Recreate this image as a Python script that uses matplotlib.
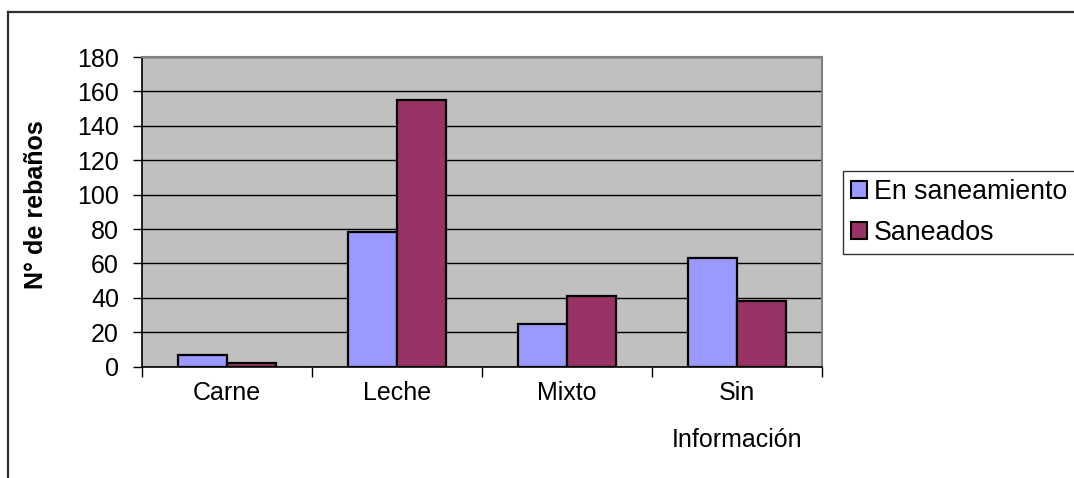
import matplotlib
matplotlib.use("Agg")
import matplotlib.pyplot as plt
import numpy as np
from matplotlib.lines import Line2D
from matplotlib.patches import Patch

plt.rcParams['font.family'] = ['Liberation Sans', 'DejaVu Sans']

categories = ["Carne", "Leche", "Mixto", "Sin\nInformación"]
en_saneamiento = [7, 78, 25, 63]
saneados = [2, 155, 41, 38]
series_names = ["En saneamiento", "Saneados"]
y_ticks = [0, 20, 40, 60, 80, 100, 120, 140, 160, 180]

W, H = 1074, 478
fig = plt.figure(figsize=(W / 100, H / 100), dpi=100)
ax = fig.add_axes([142 / W, 1 - 366.7 / H, 680 / W, (366.7 - 57) / H])

blue = "#9999FF"
plum = "#993366"
x = np.arange(len(categories))
bw = 1 / 3.5
ax.bar(x - bw / 2, en_saneamiento, width=bw, color=blue, edgecolor="black",
       linewidth=1.6, zorder=3)
ax.bar(x + bw / 2, saneados, width=bw, color=plum, edgecolor="black",
       linewidth=1.6, zorder=3)

ax.set_xlim(-0.5, len(categories) - 0.5)
ax.set_ylim(0, 180)
ax.set_facecolor("#C0C0C0")
ax.set_yticks(y_ticks)
ax.set_yticklabels([str(v) for v in y_ticks], fontsize=18)
ax.yaxis.grid(True, color="black", linewidth=1.0, zorder=1)
ax.set_axisbelow(True)

# category labels centred, ticks on category boundaries
ax.set_xticks(x)
ax.set_xticklabels(categories, fontsize=18, linespacing=2.25)
ax.tick_params(axis="x", length=0, pad=10)
ax.set_xticks(np.arange(-0.5, len(categories)), minor=True)
ax.tick_params(axis="x", which="minor", length=7, width=1, color="black",
               direction="out")
ax.tick_params(axis="y", length=6.5, width=1, color="black", direction="out",
               pad=10)

for side in ("top", "right"):
    ax.spines[side].set_color("#808080")
    ax.spines[side].set_linewidth(1.5)
ax.spines["left"].set_color("black")
ax.spines["bottom"].set_color("black")
ax.spines["left"].set_linewidth(1.2)
ax.spines["bottom"].set_linewidth(1.2)

ax.set_ylabel("N° de rebaños", fontsize=18, fontweight="bold")
ax.yaxis.set_label_coords(-0.138, 0.522)

handles = [Patch(facecolor=blue, edgecolor="black", linewidth=1.5),
           Patch(facecolor=plum, edgecolor="black", linewidth=1.5)]
leg = fig.legend(handles, series_names, loc="upper left",
                 bbox_to_anchor=(843 / W, 1 - 171 / H), borderaxespad=0,
                 fontsize=19.3, frameon=True, fancybox=False,
                 handlelength=0.6, handleheight=0.6, handletextpad=0.25,
                 borderpad=0.3, labelspacing=0.55)
leg.get_frame().set_edgecolor("black")
leg.get_frame().set_linewidth(1.0)

# outer chart frame
fig.add_artist(Line2D([8 / W, 8 / W], [1 - 12 / H, -0.05], color="#303030",
                      linewidth=1.6, transform=fig.transFigure))
fig.add_artist(Line2D([8 / W, 1.05], [1 - 12 / H, 1 - 12 / H], color="#303030",
                      linewidth=1.6, transform=fig.transFigure))

fig.savefig("out.png", dpi=100)
